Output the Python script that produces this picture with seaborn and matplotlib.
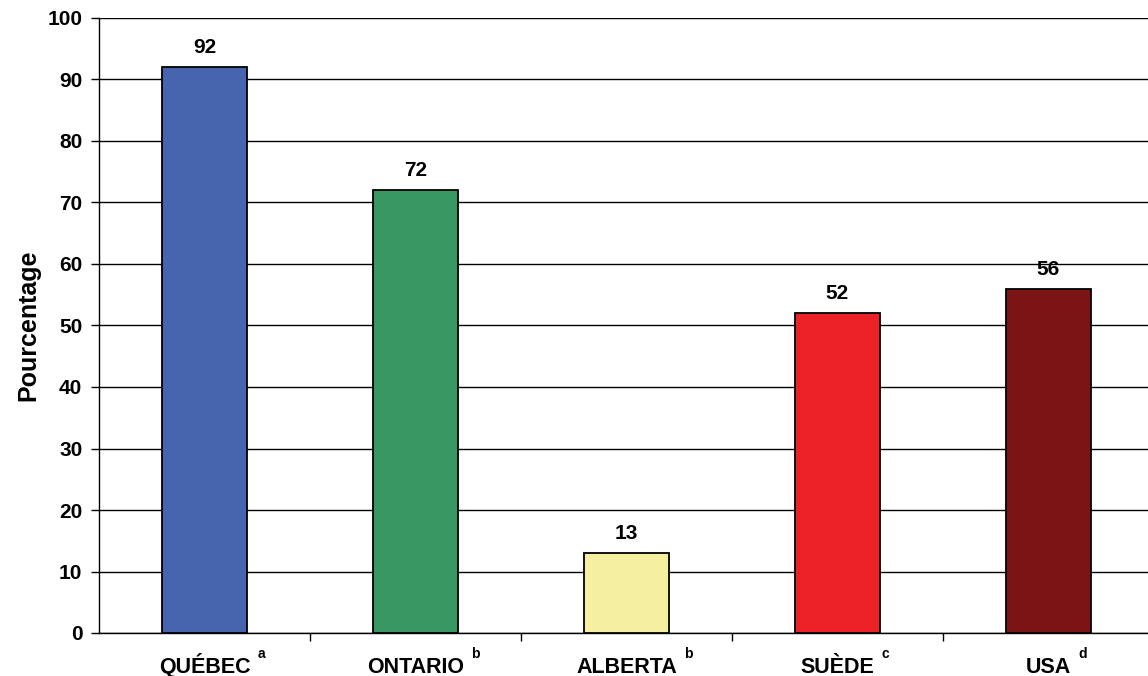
import matplotlib
matplotlib.use("Agg")
import matplotlib.pyplot as plt
import seaborn as sns
import pandas as pd
import numpy as np
from matplotlib.ticker import FixedLocator, MultipleLocator, NullFormatter

# Data
regions = ["QUÉBEC", "ONTARIO", "ALBERTA", "SUÈDE", "USA"]
notes = ["a", "b", "b", "c", "d"]
values = [92, 72, 13, 52, 56]
colors = ["#4764AE", "#399763", "#F5F0A0", "#EC2227", "#7C1416"]

sns.set_theme(style="white")
plt.rcParams["font.family"] = ["Liberation Sans", "DejaVu Sans"]
plt.rcParams["font.weight"] = "bold"
for key in ["text.color", "axes.labelcolor", "xtick.color", "ytick.color"]:
    plt.rcParams[key] = "black"

df = pd.DataFrame({"region": regions, "value": values})

fig = plt.figure(figsize=(11.48, 6.76), dpi=100)
W, H = 1148, 676
ax = fig.add_axes([99 / W, 1 - 633 / H, 1055 / W, (633 - 18) / H])

sns.barplot(data=df, x="region", y="value", hue="region", palette=colors,
            saturation=1, width=0.4, edgecolor="black", linewidth=1.3,
            legend=False, ax=ax, zorder=3)

ax.set_ylim(0, 100)
ax.set_xlim(-0.5, 4.5)
ax.yaxis.set_major_locator(MultipleLocator(10))
ax.grid(axis="y", color="black", linewidth=1.0, zorder=0)
ax.grid(axis="x", visible=False)

for s in ["top", "right"]:
    ax.spines[s].set_visible(False)
for s in ["left", "bottom"]:
    ax.spines[s].set_color("black")
    ax.spines[s].set_linewidth(1.0)

# Value labels above each bar
for i, v in enumerate(values):
    ax.annotate(str(v), (i, v), xytext=(0, 7), textcoords="offset points",
                ha="center", va="bottom", fontsize=15, fontweight="bold",
                color="black")

# Ticks: category separators below the axis, values on the left
ax.set_xticks(range(len(regions)))
ax.xaxis.set_major_formatter(NullFormatter())
ax.xaxis.set_minor_locator(FixedLocator(np.arange(0.5, len(regions) - 0.5, 1)))
ax.tick_params(axis="x", which="major", length=0)
ax.tick_params(axis="x", which="minor", length=6, width=1, color="black",
               direction="out", bottom=True)
ax.tick_params(axis="y", which="major", length=6, width=1, color="black",
               direction="out", left=True, pad=6, labelsize=15)
for lbl in ax.get_yticklabels():
    lbl.set_fontweight("bold")

ax.set_xlabel("")
ax.set_ylabel("Pourcentage", fontsize=18, fontweight="bold", labelpad=5)

# Category names on a common baseline below the axis
name_texts = []
for i, name in enumerate(regions):
    t = ax.annotate(name, (i, 0), xytext=(0, -40), textcoords="offset pixels",
                    ha="center", va="baseline", fontsize=15.5,
                    fontweight="bold", color="black", annotation_clip=False)
    name_texts.append(t)

# Note letters as superscripts after each name
fig.canvas.draw()
renderer = fig.canvas.get_renderer()
for i, (t, note) in enumerate(zip(name_texts, notes)):
    bb = t.get_window_extent(renderer)
    x0 = ax.transData.transform((i, 0))[0]
    dx = bb.x1 - x0 + 7
    ax.annotate(note, (i, 0), xytext=(dx, -25), textcoords="offset pixels",
                ha="left", va="baseline", fontsize=10, fontweight="bold",
                color="black", annotation_clip=False)

fig.savefig("out.png", dpi=100, facecolor="white")
